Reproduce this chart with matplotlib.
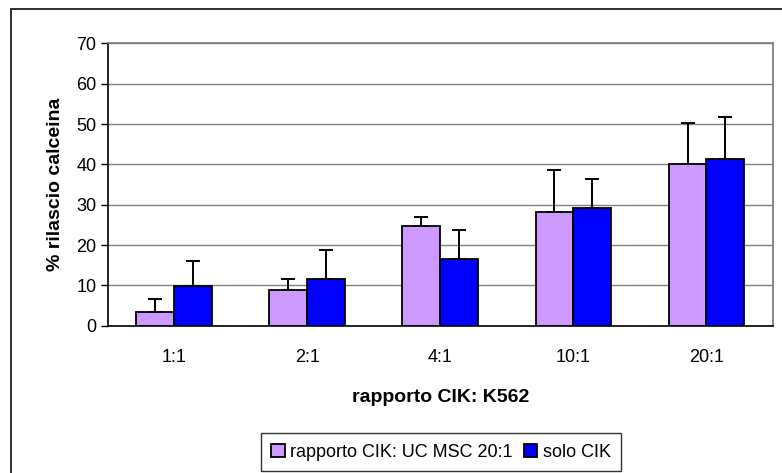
import matplotlib.pyplot as plt
import numpy as np
from matplotlib.patches import Rectangle

plt.rcParams["font.family"] = ["Liberation Sans", "DejaVu Sans"]

CATEGORIES = ["1:1", "2:1", "4:1", "10:1", "20:1"]
UC_MSC = [3.3, 8.8, 24.8, 28.2, 40.2]
UC_MSC_ERR = [3.3, 2.85, 2.1, 10.3, 10.0]
SOLO_CIK = [9.9, 11.65, 16.6, 29.2, 41.3]
SOLO_CIK_ERR = [6.1, 7.15, 7.1, 7.2, 10.4]
LABELS = ("rapporto CIK: UC MSC 20:1", "solo CIK")

W, H = 782, 473


def main():
    fig = plt.figure(figsize=(W / 100, H / 100), dpi=100)
    # outer chart frame (cut off at right/bottom like the reference)
    fig.add_artist(
        Rectangle((10.5 / W, -0.1), 1.2, 1 - 9 / H + 0.1, transform=fig.transFigure,
                  fill=False, edgecolor="#202020", linewidth=1.3)
    )
    ax = fig.add_axes([107.5 / W, 1 - 325.7 / H, (773 - 107.5) / W, (325.7 - 43.5) / H])

    x = np.arange(len(CATEGORIES))
    bw = 0.284
    err_kw = dict(ecolor="black", elinewidth=1.4, capsize=5, capthick=1.4)
    ax.bar(x - bw / 2, UC_MSC, bw, color="#CC99FF", edgecolor="black", linewidth=1.3,
           yerr=[np.zeros(len(UC_MSC)), UC_MSC_ERR], error_kw=err_kw, label=LABELS[0], zorder=3)
    ax.bar(x + bw / 2, SOLO_CIK, bw, color="#0000FF", edgecolor="black", linewidth=1.3,
           yerr=[np.zeros(len(SOLO_CIK)), SOLO_CIK_ERR], error_kw=err_kw, label=LABELS[1], zorder=3)

    ax.set_xlim(-0.5, len(CATEGORIES) - 0.5)
    ax.set_ylim(0, 70)
    ax.set_yticks(range(0, 71, 10))
    ax.set_xticks(x)
    ax.set_xticklabels(CATEGORIES)
    ax.yaxis.grid(True, color="#808080", linewidth=1.0, zorder=0)
    ax.set_axisbelow(True)
    ax.tick_params(axis="y", direction="out", length=5, width=1, labelsize=13, pad=3)
    ax.tick_params(axis="x", length=0, labelsize=13, pad=17)
    for side in ("top", "right"):
        ax.spines[side].set_color("#808080")
        ax.spines[side].set_linewidth(1.3)
    for side in ("left", "bottom"):
        ax.spines[side].set_color("black")
        ax.spines[side].set_linewidth(1.2)

    ax.set_ylabel("% rilascio calceina", fontsize=14, fontweight="bold", labelpad=9)
    ax.set_xlabel("rapporto CIK: K562", fontsize=14, fontweight="bold", labelpad=16)

    leg = fig.legend(loc="center", bbox_to_anchor=(441 / W, 1 - 452 / H), ncol=2,
                     fontsize=13, frameon=True, fancybox=False, handlelength=0.75,
                     handleheight=0.75, handletextpad=0.3, columnspacing=0.6,
                     borderpad=0.6)
    leg.get_frame().set_edgecolor("black")
    leg.get_frame().set_linewidth(1.0)

    fig.savefig("out.png", dpi=100)


if __name__ == "__main__":
    main()
